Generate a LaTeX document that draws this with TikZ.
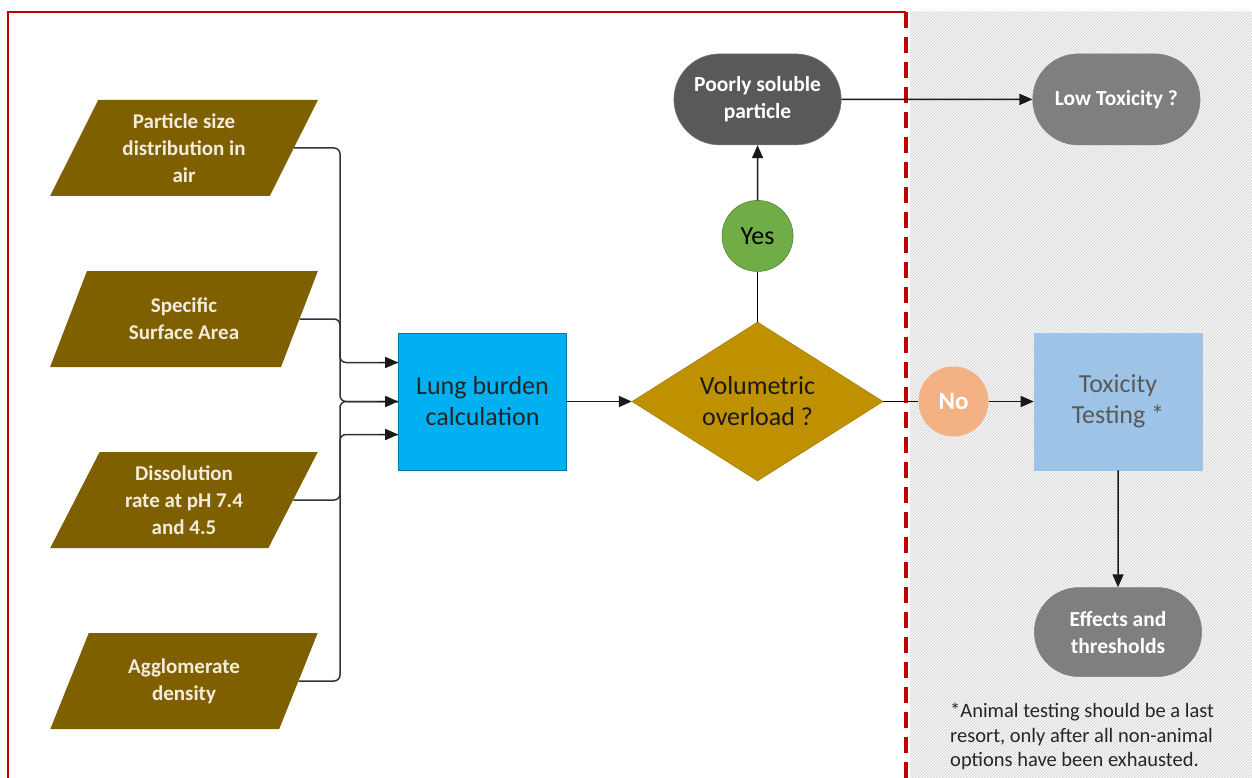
\documentclass[tikz,border=0pt]{standalone}
\usepackage{fontspec}
\setmainfont{Carlito}
\usetikzlibrary{shapes.geometric, shapes.misc, positioning, arrows.meta, patterns}
\definecolor{inbrown}{HTML}{7F6000}
\definecolor{intext}{HTML}{F3ECDC}
\definecolor{lungblue}{HTML}{00B0F0}
\definecolor{volgold}{HTML}{BF9000}
\definecolor{yesgreen}{HTML}{70AD47}
\definecolor{nopeach}{HTML}{F4B183}
\definecolor{darkterm}{HTML}{595959}
\definecolor{greyterm}{HTML}{7F7F7F}
\definecolor{toxblue}{HTML}{9DC3E6}
\definecolor{framered}{HTML}{C00000}
\tikzset{
    >={Triangle[length=13pt, width=11pt]},
    conn/.style={->, line width=1.5pt, draw=black!90},
    bus/.style={line width=1.5pt, draw=black!80, rounded corners=6pt},
    input/.style={trapezium, trapezium left angle=63.4, trapezium right angle=116.6,
        trapezium stretches=true, minimum width=268pt, minimum height=96pt,
        fill=inbrown, text=intext, align=center, inner sep=0pt,
        font=\bfseries\fontsize{21}{27}\selectfont},
    calcbox/.style={rectangle, fill=lungblue, draw=lungblue!70!black, line width=0.6pt,
        minimum width=168pt, minimum height=137pt, align=center, text=black!85,
        font=\fontsize{26}{31}\selectfont},
    decision/.style={diamond, aspect=1.58, fill=volgold, draw=volgold!85!black, line width=0.5pt,
        minimum width=251pt, minimum height=159pt, inner sep=0pt, align=center, text=black!90,
        font=\fontsize{26}{31}\selectfont},
    answer/.style={circle, minimum size=71pt, inner sep=0pt},
    terminal/.style={rounded rectangle, minimum width=174pt, minimum height=91pt,
        draw=black!50, line width=0.5pt, text=white, align=center,
        font=\bfseries\fontsize{21.5}{27}\selectfont},
}

\begin{document}
\begin{tikzpicture}[x=1pt, y=-1pt]
    \useasboundingbox (0,0) rectangle (1252,778);
    \fill[white] (0,0) rectangle (1252,778);
    % hatched right part
    \fill[gray!6] (910,12) rectangle (1252,778);
    \fill[pattern=north east lines, pattern color=gray!35] (910,12) rectangle (1252,778);
    \draw[framered, line width=2pt] (8,778) -- (8,12) -- (906,12);
    \draw[framered, line width=3.5pt, dash pattern=on 16pt off 9pt] (906,12) -- (906,778);

    \node[input] (size) at (184,148) {Particle size\\distribution in\\air};
    \node[input] (area) at (184,319) {Specific\\Surface Area};
    \node[input] (diss) at (184,500) {Dissolution\\rate at pH 7.4\\and 4.5};
    \node[input] (dens) at (184,681) {Agglomerate\\density};

    \node[calcbox] (lung) at (482.5,401.5) {Lung burden\\calculation};
    \node[decision, right=65pt of lung] (vol) {Volumetric\\overload ?};
    \node[answer, fill=yesgreen, draw=yesgreen!75!black, line width=0.6pt,
          font=\fontsize{26}{30}\selectfont, above=50pt of vol] (yes) {Yes};
    \node[terminal, fill=darkterm, above=55pt of yes] (poor) {Poorly soluble\\particle};
    \node[terminal, fill=greyterm, draw=greyterm, right=191pt of poor] (low) {Low Toxicity ?};
    \node[answer, fill=nopeach, text=white, minimum size=70pt,
          font=\bfseries\fontsize{25}{30}\selectfont, right=35pt of vol] (no) {No};
    \node[calcbox, fill=toxblue, draw=toxblue, text=darkterm, right=45pt of no] (tox) {Toxicity\\Testing *};
    \node[terminal, fill=greyterm, minimum height=89pt, below=117pt of tox] (eff) {Effects and\\thresholds};
    \node[anchor=north west, align=left, inner sep=0pt, text=black!85,
          font=\fontsize{20.5}{24.5}\selectfont] (note) at (950,703)
          {*Animal testing should be a last\\resort, only after all non-animal\\options have been exhausted.};

    % inputs to lung burden
    \coordinate (bus) at (340,0);
    \coordinate (inA) at ([yshift=39pt]lung.west);
    \coordinate (inB) at ([yshift=-33pt]lung.west);
    \draw[bus] (size.east) -| (bus |- lung.west) -- (lung.west);
    \draw[bus] (area.east) -| (bus |- inA) -- (inA);
    \draw[bus] (diss.east) -| (bus |- inB) -- (inB);
    \draw[bus] (dens.east) -| (bus |- lung.west) -- (lung.west);
    \draw[conn] ([xshift=-20pt]inA) -- (inA);
    \draw[conn] ([xshift=-20pt]lung.west) -- (lung.west);
    \draw[conn] ([xshift=-20pt]inB) -- (inB);

    \draw[conn] (lung) -- (vol);
    \draw[line width=1.5pt] (vol) -- (yes);
    \draw[conn] (yes) -- (poor);
    \draw[conn] (poor) -- (low);
    \draw[line width=1.5pt] (vol) -- (no);
    \draw[conn] (no) -- (tox);
    \draw[conn] (tox) -- (eff);
\end{tikzpicture}
\end{document}
